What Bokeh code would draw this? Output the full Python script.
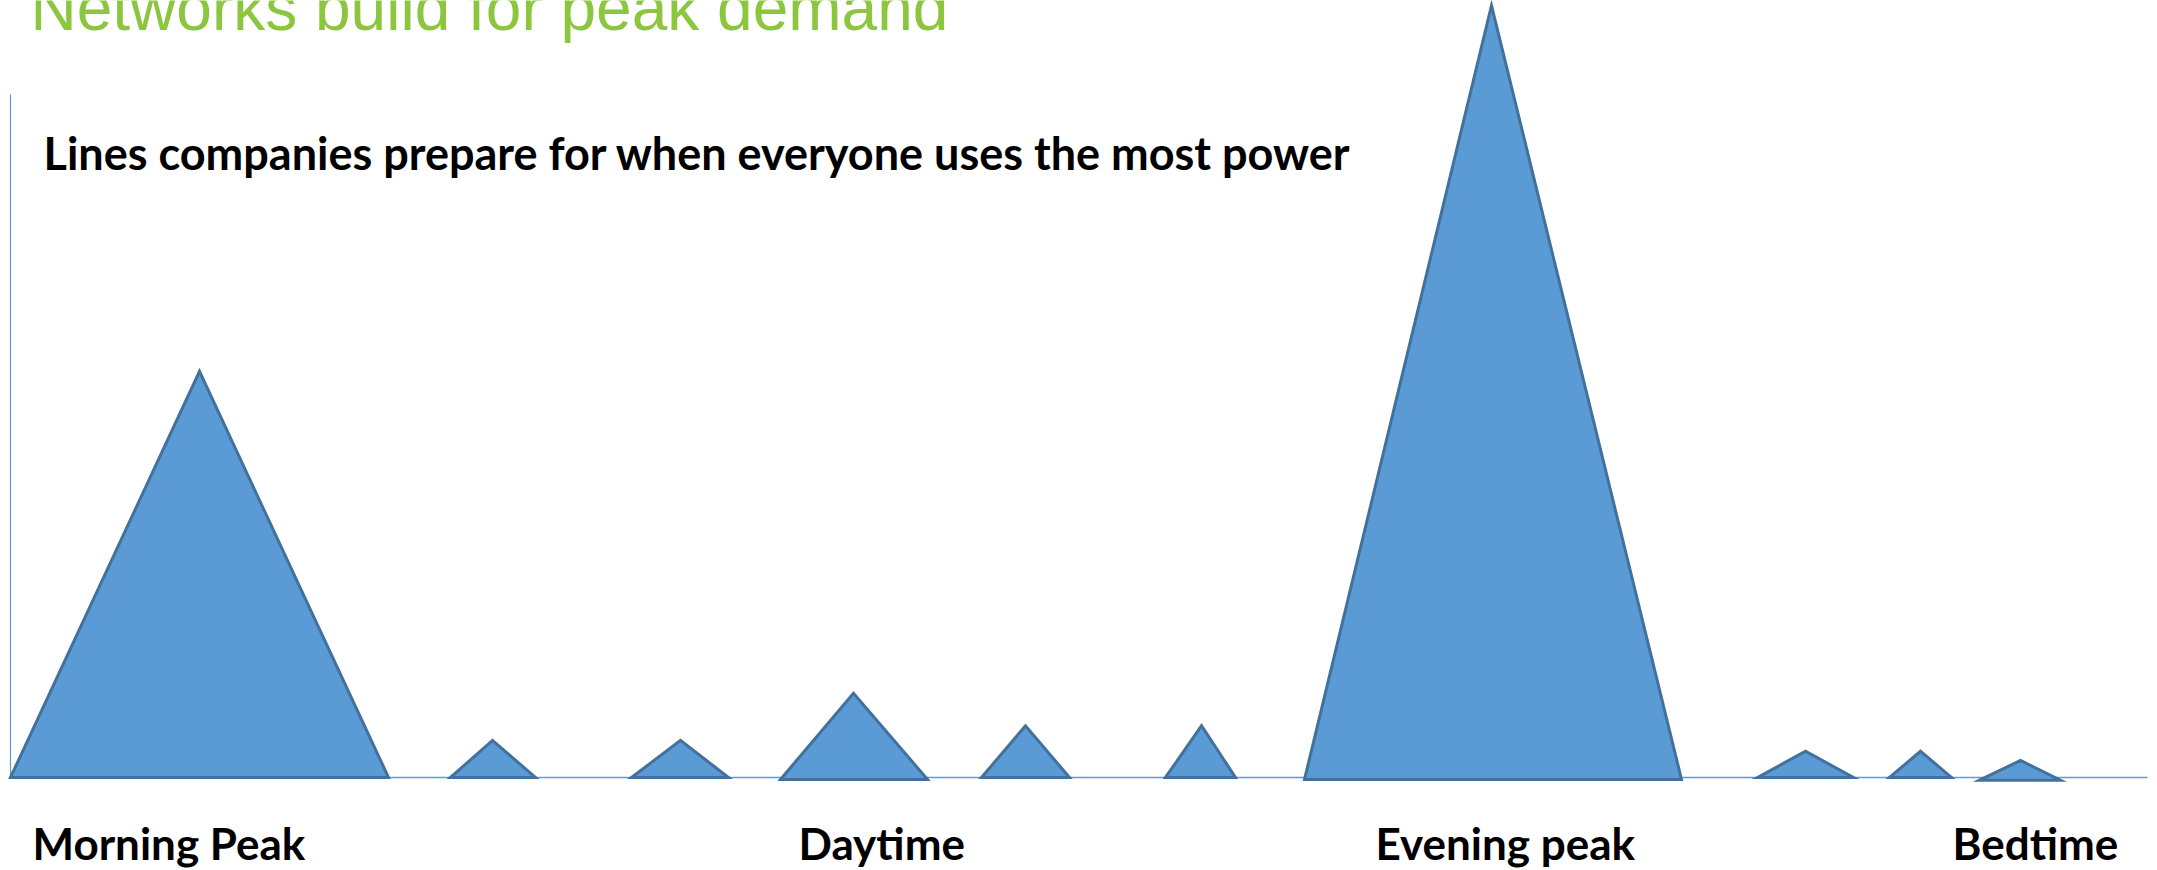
from bokeh.plotting import figure
from bokeh.models import Range1d, Label, ColumnDataSource
from bokeh.core.properties import value
from bokeh.embed import file_html
from bokeh.resources import INLINE

# --- data -------------------------------------------------------------
# each demand spike: start, peak position, end (horizontal position along the day)
spike_start = [10, 450, 631, 780, 981, 1165, 1304, 1757, 1889, 1979]
spike_peak  = [199, 492, 680, 853, 1025, 1201, 1491, 1805, 1920, 2020]
spike_end   = [388, 535, 728, 927, 1069, 1235, 1681, 1853, 1951, 2060]
# relative demand height (evening peak = 100)
spike_height = [52.6, 4.8, 4.8, 10.9, 6.7, 6.7, 100.0, 3.4, 3.4, 2.2]
spike_base   = [0.0, 0.0, 0.0, -0.25, 0.0, 0.0, -0.25, 0.0, 0.0, -0.35]

period_labels = ["Morning  Peak", "Daytime", "Evening peak", "Bedtime"]
period_x      = [32, 798, 1375, 1952]

title_text = "Networks build for peak demand"
subtitle_text = "Lines companies prepare for when everyone uses the most power"

# --- figure -----------------------------------------------------------
W, H = 2157, 870
p = figure(width=W, height=H, output_backend="svg", toolbar_location=None,
           x_range=Range1d(0, W), y_range=Range1d(-12.05, 100.65),
           x_axis_type=None, y_axis_type=None, min_border=0)
p.grid.visible = False
p.outline_line_color = None
p.background_fill_color = "white"
p.border_fill_color = "white"

# axes lines
p.segment(x0=[10], y0=[0], x1=[10], y1=[88.5], line_color="#5B9BD5", line_width=1.2)
p.segment(x0=[10], y0=[0], x1=[2147], y1=[0], line_color="#5B9BD5", line_width=1.5)

xs = [[s, pk, e] for s, pk, e in zip(spike_start, spike_peak, spike_end)]
ys = [[b, h, b] for b, h in zip(spike_base, spike_height)]
p.patches(xs=xs, ys=ys, fill_color="#5B9BD5", line_color="#41719C",
          line_width=3, line_join="miter")

lab_src = ColumnDataSource(dict(x=period_x, y=[-8.5] * len(period_x), t=period_labels))
p.text(x="x", y="y", text="t", source=lab_src, text_font=value("Lato"),
       text_font_style="bold", text_font_size="44px", text_color="black",
       text_baseline="alphabetic", text_align="left")

p.add_layout(Label(x=30, y=99.7, text=title_text, text_font="Liberation Sans",
                   text_font_size="64px", text_color="#8CC63F",
                   text_baseline="alphabetic"))
p.add_layout(Label(x=43, y=80.9, text=subtitle_text, text_font="Lato",
                   text_font_style="bold", text_font_size="45px", text_color="black",
                   text_baseline="alphabetic"))

open("out.html", "w").write(file_html(p, INLINE))
